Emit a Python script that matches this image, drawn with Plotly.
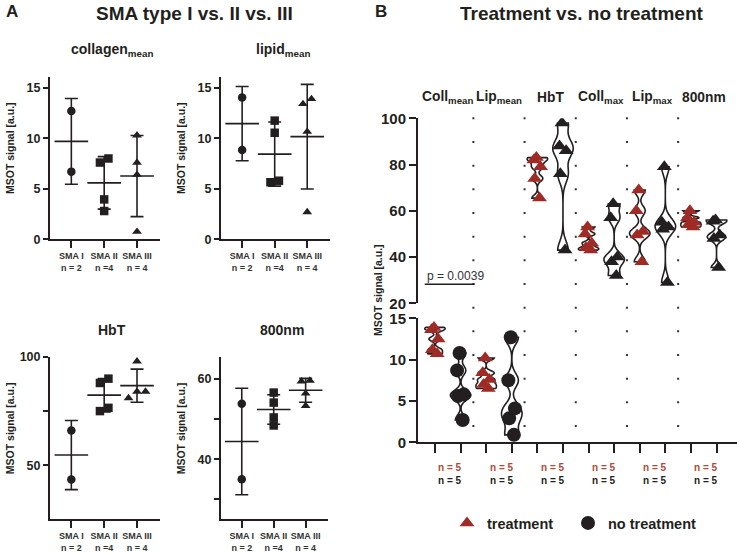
import numpy as np
import plotly.graph_objects as go

W, H = 739, 554
TXT = "#231F20"
RED = "#9E2B25"
RED_TXT = "#B04A3A"
FONT = "Liberation Sans, Arial, sans-serif"

# ---------------- Panel A data ----------------
A_groups = ["SMA I", "SMA II", "SMA III"]
A_n = ["n = 2", "n =4", "n = 4"]
A_symbols = ["circle", "square", "triangle-up"]

collagen_sma1 = [12.7, 6.7]
collagen_sma2 = [7.6, 8.0, 3.95, 2.8]
collagen_sma3 = [10.3, 7.6, 6.4, 0.75]

lipid_sma1 = [14.05, 8.85]
lipid_sma2 = [11.75, 10.55, 5.65, 5.8]
lipid_sma3 = [13.4, 13.9, 10.65, 2.7]

hbt_sma1 = [66.0, 43.4]
hbt_sma2 = [88.0, 90.0, 76.5, 75.0]
hbt_sma3 = [98.0, 84.0, 84.0, 81.0]

nm800_sma1 = [53.8, 35.0]
nm800_sma2 = [56.6, 54.1, 50.4, 48.4]
nm800_sma3 = [59.6, 59.4, 56.4, 53.3]

A_titles = ["collagen<sub>mean</sub>", "lipid<sub>mean</sub>", "HbT", "800nm"]
A_ranges = [[0, 16.1], [0, 16.1], [25, 100], [25, 65.4]]
A_tickvals = [[0, 5, 10, 15], [0, 5, 10, 15], [50, 75, 100], [30, 40, 50, 60]]
A_ticktext = [["0", "5", "10", "15"], ["0", "5", "10", "15"], ["50", " ", "100"], [" ", "40", " ", "60"]]

# ---------------- Panel B data ----------------
B_labels = ["Coll<sub>mean</sub>", "Lip<sub>mean</sub>", "HbT",
            "Coll<sub>max</sub>", "Lip<sub>max</sub>", "800nm"]
treat_coll_mean = [13.9, 13.6, 12.5, 11.2, 10.7]
notreat_coll_mean = [10.8, 8.7, 5.8, 5.6, 2.7]
treat_lip_mean = [10.2, 8.4, 7.6, 7.0, 6.5]
notreat_lip_mean = [12.7, 7.5, 4.1, 2.9, 0.9]
treat_hbt = [83.0, 82.0, 79.0, 74.0, 65.5]
notreat_hbt = [98.0, 88.0, 86.0, 76.0, 43.0]
treat_coll_max = [53.0, 50.0, 46.0, 44.0, 43.0]
notreat_coll_max = [63.0, 57.0, 40.0, 38.0, 32.0]
treat_lip_max = [69.0, 60.0, 51.0, 49.5, 38.0]
notreat_lip_max = [79.0, 55.0, 53.0, 52.0, 29.0]
treat_800 = [60.0, 57.0, 55.0, 54.0, 53.0]
notreat_800 = [56.0, 55.5, 49.5, 48.0, 35.5]
B_n_treat = ["n = 5"] * 6
B_n_notreat = ["n = 5"] * 6
p_text = "p = 0.0039"
B_low_ticks = [0, 5, 10, 15]
B_high_ticks = [20, 40, 60, 80, 100]
legend_names = ["treatment", "no treatment"]


def b(s):
    return f"<b>{s}</b>"


def spread(vals, thr, step):
    """Offset points horizontally when they would overlap vertically."""
    order = np.argsort(vals)
    offs = np.zeros(len(vals))
    clusters, cur = [], [order[0]]
    for i in order[1:]:
        if vals[i] - vals[cur[-1]] < thr:
            cur.append(i)
        else:
            clusters.append(cur)
            cur = [i]
    clusters.append(cur)
    for c in clusters:
        m = len(c)
        for j, i in enumerate(c):
            offs[i] = (j - (m - 1) / 2) * step
    return offs


def ann(text, x, y, size, color=TXT, xref="paper", yref="paper", xanchor="center", **kw):
    return dict(text=text, x=x, y=y, xref=xref, yref=yref, xanchor=xanchor,
                yanchor="middle", showarrow=False, font=dict(size=size, color=color), **kw)


fig = go.Figure()
layout = dict(width=W, height=H, margin=dict(l=0, r=0, t=0, b=0, autoexpand=False),
              paper_bgcolor="white", plot_bgcolor="white",
              font=dict(family=FONT, color=TXT), showlegend=True)
annotations = []
shapes = []

# boxes in pixels: left, right, top, bottom
A_boxes = [(50, 160, 76.7, 239.3), (221, 330, 76.7, 239.3),
           (50, 160, 357.0, 519.3), (221, 328, 357.3, 519.3)]
A_data = [[collagen_sma1, collagen_sma2, collagen_sma3],
          [lipid_sma1, lipid_sma2, lipid_sma3],
          [hbt_sma1, hbt_sma2, hbt_sma3],
          [nm800_sma1, nm800_sma2, nm800_sma3]]
XR = [0.35, 3.7]

for k in range(4):
    i = k + 1
    l, r, t, bt = A_boxes[k]
    yr = A_ranges[k]
    px_per_unit = (bt - t) / (yr[1] - yr[0])
    xpx_per_unit = (r - l) / (XR[1] - XR[0])
    xs = "x" if i == 1 else f"x{i}"
    ys = "y" if i == 1 else f"y{i}"
    for g in range(3):
        vals = np.array(A_data[k][g], dtype=float)
        offs = spread(vals, 7.5 / px_per_unit, 8.5 / xpx_per_unit)
        fig.add_trace(go.Scatter(
            x=(g + 1) + offs, y=vals, mode="markers", xaxis=xs, yaxis=ys,
            marker=dict(symbol=A_symbols[g], size=8.5, color=TXT),
            showlegend=False, cliponaxis=False, hoverinfo="skip"))
        fig.add_trace(go.Scatter(
            x=[g + 1], y=[vals.mean()], mode="markers", xaxis=xs, yaxis=ys,
            marker=dict(symbol="line-ew", size=24, color=TXT,
                        line=dict(width=1.6, color=TXT)),
            error_y=dict(type="data", array=[vals.std(ddof=1)], visible=True,
                         thickness=1.6, width=6.5, color=TXT),
            showlegend=False, cliponaxis=False, hoverinfo="skip"))
    layout[f"xaxis{'' if i == 1 else i}"] = dict(
        domain=[l / W, r / W], range=XR, anchor=ys, showline=True,
        linecolor=TXT, linewidth=2, ticks="outside", ticklen=7, tickwidth=2,
        tickcolor=TXT, tickvals=[1, 2, 3], tickangle=0,
        ticktext=[b(f"{A_groups[g]}<br>{A_n[g]}") for g in range(3)],
        tickfont=dict(size=9, color="#333333"), showgrid=False, zeroline=False)
    layout[f"yaxis{'' if i == 1 else i}"] = dict(
        domain=[1 - bt / H, 1 - t / H], range=yr, anchor=xs, showline=True,
        linecolor=TXT, linewidth=2, ticks="outside", ticklen=5, tickwidth=2,
        tickcolor=TXT, tickvals=A_tickvals[k],
        ticktext=[b(s) for s in A_ticktext[k]],
        tickfont=dict(size=12.5, color=TXT), showgrid=False, zeroline=False)
    annotations.append(ann(b(A_titles[k]), ((l + r) / 2 + 7) / W, 1 - (t - 27) / H, 14))
    annotations.append(ann(b("MSOT signal [a.u.]"), (l - 40) / W,
                           1 - ((t + bt) / 2 - 10) / H, 10.5, textangle=-90))

# ---------------- Panel B ----------------
B_pairs = [(treat_coll_mean, notreat_coll_mean), (treat_lip_mean, notreat_lip_mean),
           (treat_hbt, notreat_hbt), (treat_coll_max, notreat_coll_max),
           (treat_lip_max, notreat_lip_max), (treat_800, notreat_800)]

for k, (vt, vn) in enumerate(B_pairs):
    ya = "y5" if k < 2 else "y6"
    for j, (vals, col, sym) in enumerate([(vt, RED, "triangle-up"),
                                          (vn, TXT, "circle" if k < 2 else "triangle-up")]):
        vals = np.array(vals, dtype=float)
        fig.add_trace(go.Violin(
            x=[2 * k + 1 + j] * len(vals), y=vals, xaxis="x5", yaxis=ya,
            width=0.8, spanmode="hard", bandwidth=0.18 * vals.std(ddof=1),
            line=dict(color=TXT, width=1.6), fillcolor="white",
            points="all", pointpos=0, jitter=0.4,
            marker=dict(symbol=sym, size=14 if sym == "circle" else 13, color=col,
                        line=dict(width=0)),
            box=dict(visible=False), meanline=dict(visible=False),
            showlegend=False, hoverinfo="skip"))

fig.add_trace(go.Scatter(x=[None], y=[None], mode="markers", xaxis="x5", yaxis="y5",
                         marker=dict(symbol="triangle-up", size=13, color=RED),
                         name=b(legend_names[0]), legend="legend"))
fig.add_trace(go.Scatter(x=[None], y=[None], mode="markers", xaxis="x5", yaxis="y5",
                         marker=dict(symbol="circle", size=14, color=TXT),
                         name=b(legend_names[1]), legend="legend2"))

layout["violinmode"] = "overlay"
layout["xaxis5"] = dict(domain=[418 / W, 737 / W], range=[0.336, 12.8], anchor="y5",
                        showline=True, linecolor=TXT, linewidth=2, ticks="outside",
                        ticklen=9, tickwidth=2, tickcolor=TXT,
                        tickvals=list(range(1, 13)), showticklabels=False,
                        showgrid=False, zeroline=False)
layout["yaxis5"] = dict(domain=[1 - 442.3 / H, 1 - 318.3 / H], range=[0, 15], anchor="x5",
                        showline=True, linecolor=TXT, linewidth=2, ticks="outside",
                        ticklen=7, tickwidth=2, tickcolor=TXT, tickvals=B_low_ticks,
                        ticktext=[b(v) for v in B_low_ticks],
                        tickfont=dict(size=15, color=TXT), showgrid=False, zeroline=False)
layout["yaxis6"] = dict(domain=[1 - 303.3 / H, 1 - 118.3 / H], range=[20, 100], anchor="x5",
                        showline=True, linecolor=TXT, linewidth=2, ticks="outside",
                        ticklen=7, tickwidth=2, tickcolor=TXT, tickvals=B_high_ticks,
                        ticktext=[b(v) for v in B_high_ticks],
                        tickfont=dict(size=15, color=TXT), showgrid=False, zeroline=False)

# dotted separators between parameter pairs
for k in range(5):
    xs = 2 * k + 2.5
    shapes.append(dict(type="line", xref="x5", yref="paper", x0=xs, x1=xs,
                       y0=1 - 117.3 / H, y1=1 - 430 / H,
                       line=dict(color="#333333", width=2, dash="2px,21.67px")))

# p-value bar
shapes.append(dict(type="line", xref="x5", yref="y6", x0=0.6, x1=2.55, y0=28.2, y1=28.2,
                   line=dict(color=TXT, width=1.5)))
annotations.append(ann(p_text, 0.6, 31.8, 12, color="#333333", xref="x5", yref="y6",
                       xanchor="left"))

for k in range(6):
    annotations.append(ann(b(B_labels[k]), 2 * k + 1.5, 1 - 97 / H, 13.8, xref="x5"))
    annotations.append(ann(b(B_n_treat[k]), 2 * k + 1.6, 1 - 467.5 / H, 10,
                           color=RED_TXT, xref="x5"))
    annotations.append(ann(b(B_n_notreat[k]), 2 * k + 1.6, 1 - 480.5 / H, 10, xref="x5"))

annotations.append(ann(b("MSOT signal [a.u.]"), 378 / W, 1 - 290 / H, 10.5, textangle=-90))

# headers
annotations += [
    ann(b("A"), 4 / W, 1 - 12 / H, 17, xanchor="left"),
    ann(b("SMA type I vs. II vs. III"), 194 / W, 1 - 13 / H, 19),
    ann(b("B"), 373 / W, 1 - 12 / H, 17, xanchor="left"),
    ann(b("Treatment vs. no treatment"), 582 / W, 1 - 13 / H, 19),
]

leg_common = dict(orientation="h", xanchor="left", yanchor="middle", y=1 - 523 / H,
                  font=dict(size=14.5, color=TXT), bgcolor="rgba(0,0,0,0)")
layout["legend"] = dict(x=447 / W, **leg_common)
layout["legend2"] = dict(x=568 / W, **leg_common)
layout["annotations"] = annotations
layout["shapes"] = shapes
fig.update_layout(**layout)
fig.write_html("out.html", config={"displayModeBar": False},
               post_script="document.body.style.margin='0';document.body.style.padding='0';")
